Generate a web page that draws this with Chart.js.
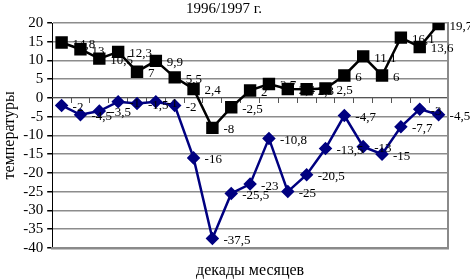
<!DOCTYPE html>
<html>
<head>
<meta charset="utf-8">
<script src="https://cdn.jsdelivr.net/npm/chart.js@4.4.1/dist/chart.umd.min.js"></script>
<style>
html,body{margin:0;padding:0;background:#fff;}
#wrap{width:470px;height:280px;position:relative;}
</style>
</head>
<body>
<div id="wrap"><canvas id="c" width="470" height="280"></canvas></div>
<script>
const categories = ['1','2','3','4','5','6','7','8','9','10','11','12','13','14','15','16','17','18','19','20','21'];
const seriesMax = [14.8, 13, 10.5, 12.3, 7, 9.9, 5.5, 2.4, -8, -2.5, 2, 3.7, 2.4, 2.3, 2.5, 6, 11.1, 6, 16.1, 13.6, 19.7];
const seriesMin = [-2, -4.5, -3.5, -1, -1.5, -1, -2, -16, -37.5, -25.5, -23, -10.8, -25, -20.5, -13.5, -4.7, -13, -15, -7.7, -3, -4.5];
const yMin = -40, yMax = 20, yStep = 5;
const titleText = '1996/1997 г.';
const xTitle = 'декады месяцев';
const yTitle = 'температуры';

const FONT = "'Liberation Serif', 'Times New Roman', serif";

const valueLabels = {
  id: 'valueLabels',
  afterDatasetsDraw(chart) {
    const ctx = chart.ctx;
    ctx.save();
    ctx.font = '13px ' + FONT;
    ctx.fillStyle = '#000';
    ctx.textAlign = 'left';
    ctx.textBaseline = 'middle';
    chart.data.datasets.forEach((ds, i) => {
      const meta = chart.getDatasetMeta(i);
      meta.data.forEach((el, j) => {
        const txt = String(ds.data[j]).replace('.', ',');
        ctx.fillText(txt, el.x + 11, el.y + 2);
      });
    });
    ctx.restore();
  }
};

new Chart(document.getElementById('c'), {
  type: 'line',
  data: {
    labels: categories,
    datasets: [
      {
        data: seriesMax,
        borderColor: '#000',
        backgroundColor: '#000',
        borderWidth: 2.5,
        pointStyle: 'rect',
        pointRadius: 7,
        pointHoverRadius: 7,
        tension: 0
      },
      {
        data: seriesMin,
        borderColor: '#000080',
        backgroundColor: '#000080',
        borderWidth: 2.5,
        pointStyle: 'rectRot',
        pointRadius: 5,
        pointHoverRadius: 5,
        tension: 0
      }
    ]
  },
  options: {
    responsive: false,
    animation: false,
    devicePixelRatio: 1,
    layout: { padding: { left: 0, right: 22, top: 0, bottom: 0 } },
    plugins: {
      legend: { display: false },
      tooltip: { enabled: false },
      title: {
        display: true,
        text: titleText,
        color: '#000',
        font: { family: FONT, size: 15, weight: 'normal' },
        padding: { top: 0, bottom: 5 }
      },
      subtitle: {
        display: true,
        text: xTitle,
        position: 'bottom',
        fullSize: false,
        color: '#000',
        font: { family: FONT, size: 16, weight: 'normal' },
        padding: { top: 13, bottom: 0 }
      }
    },
    scales: {
      y: {
        type: 'linear',
        position: 'left',
        min: yMin,
        max: yMax,
        ticks: {
          stepSize: yStep,
          autoSkip: false,
          color: '#000',
          padding: 4,
          font: { family: FONT, size: 15 }
        },
        grid: {
          display: true,
          drawOnChartArea: true,
          color: '#8c8c8c',
          lineWidth: 1.5,
          tickColor: '#000',
          tickLength: 5
        },
        border: { display: true, color: '#000', width: 1 },
        title: {
          display: true,
          text: yTitle,
          color: '#000',
          font: { family: FONT, size: 16, weight: 'normal' },
          padding: { top: 0, bottom: 0 }
        }
      },
      x: {
        type: 'category',
        position: { y: 0 },
        offset: true,
        grid: {
          display: true,
          offset: true,
          drawOnChartArea: false,
          drawTicks: true,
          tickLength: 5,
          tickColor: '#555'
        },
        border: { display: true, color: '#555', width: 1 },
        ticks: { display: false }
      },
      y2: {
        type: 'linear',
        position: 'right',
        min: yMin,
        max: yMax,
        grid: { display: true, drawOnChartArea: false, drawTicks: false },
        border: { display: true, color: '#8a8a8a', width: 2 },
        ticks: { display: false }
      },
      xb: {
        type: 'category',
        position: 'bottom',
        grid: { display: true, drawOnChartArea: false, drawTicks: false },
        border: { display: true, color: '#8a8a8a', width: 2.5 },
        ticks: { display: false }
      }
    }
  },
  plugins: [valueLabels]
});
</script>
</body>
</html>
